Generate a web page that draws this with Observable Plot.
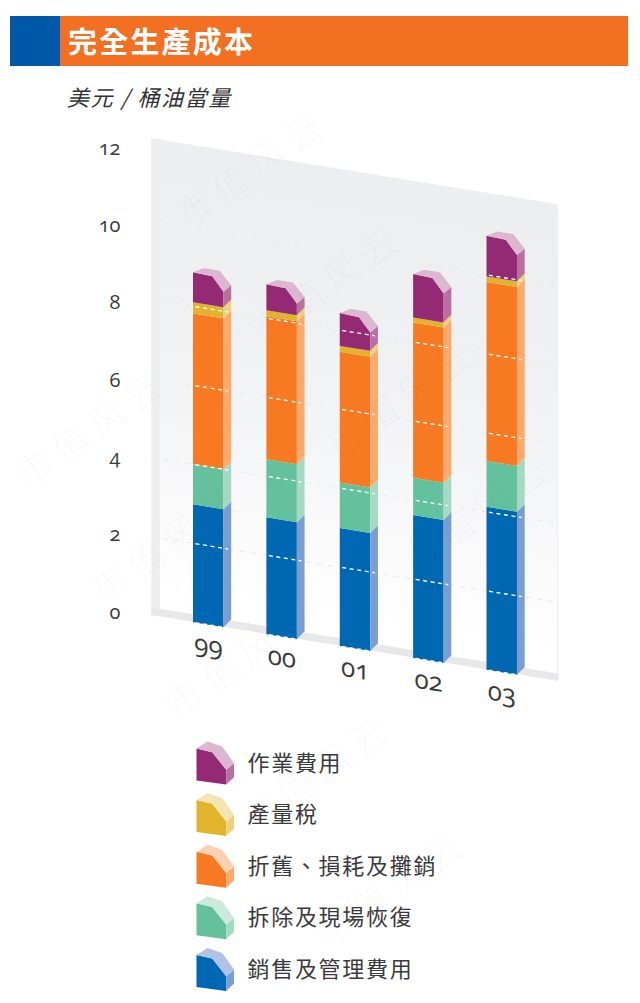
<!DOCTYPE html>
<html>
<head>
<meta charset="utf-8">
<script src="https://cdn.jsdelivr.net/npm/d3@7"></script>
<script src="https://cdn.jsdelivr.net/npm/@observablehq/plot@0.6"></script>
<style>
html,body{margin:0;padding:0;background:#fff;}
body{position:relative;width:640px;height:1003px;overflow:hidden;font-family:"Noto Sans CJK TC",sans-serif;}
#bar{position:absolute;left:10px;top:16px;width:618px;height:50px;background:#f36f21;}
#bar i{position:absolute;left:0;top:0;width:50px;height:50px;background:#0058a8;}
#bar b{position:absolute;left:58px;top:0;line-height:48px;font-size:29px;letter-spacing:2.2px;color:#fff;font-weight:700;}
#unit{position:absolute;left:67px;top:80px;line-height:32px;font-size:22px;letter-spacing:1.6px;font-style:italic;font-weight:400;color:#333335;}
svg{position:absolute;left:0;top:0;}
</style>
</head>
<body>
<div id="bar"><i></i><b>完全生產成本</b></div>
<div id="unit">美元 / 桶油當量</div>
<script>
// ---- data ----
const years = ["99","00","01","02","03"];
const sellingAdmin = [2.99,2.96,2.99,3.62,4.13];
const abandonment  = [1.01,1.47,1.15,0.94,1.16];
const depreciation = [3.82,3.62,3.31,3.93,4.53];
const productionTax= [0.28,0.15,0.15,0.13,0.14];
const operating    = [0.76,0.66,0.83,1.10,1.03];
const yTicks = [0,2,4,6,8,10,12];
const legendLabels = ["作業費用","產量稅","折舊、損耗及攤銷","拆除及現場恢復","銷售及管理費用"];
const legendFront = ["#952a74","#e1b42c","#f77a22","#63c29d","#0067b3"];
const legendSide  = ["#b9709f","#ecd27f","#fba96c","#a6d9c2","#7a9ed1"];
const legendTop   = ["#dcb7d1","#f3e5b3","#fcd1b2","#cde8dc","#b0c2e5"];

// ---- stack, bottom to top, with front/side/top colours ----
const stackOrder = [
  {v:sellingAdmin, f:legendFront[4], s:legendSide[4]},
  {v:abandonment,  f:legendFront[3], s:legendSide[3]},
  {v:depreciation, f:legendFront[2], s:legendSide[2]},
  {v:productionTax,f:legendFront[1], s:legendSide[1]},
  {v:operating,    f:legendFront[0], s:legendSide[0], t:legendTop[0]}
];

// ---- oblique drawing parameters (bar shape in scale units) ----
const W=.4155, DX=.105, DV=.228;
const SHEAR=.162, WALL_X=151;
const shear=`matrix(1 ${SHEAR} 0 1 0 ${-SHEAR*WALL_X})`;
const wrap=(before)=>(i,s,v,d,ctx,next)=>{
  const g=next(i,s,v,d,ctx);
  g.setAttribute("transform",`${before} ${g.getAttribute("transform")||""}`);
  return g;
};
const sheared=wrap(shear);
const labelFit=wrap("translate(0,9.9) scale(1,.979)");

const faces=[];
let faceId=0;
const poly=(pts,fill)=>{const z=faceId++;pts.forEach(([x,y])=>faces.push({x,y,z,fill}));};
years.forEach((_,i)=>{
  let base=0;
  stackOrder.forEach((seg,k)=>{
    const top=base+seg.v[i];
    if(seg.t){
      poly([[i,base],[i,top],[i+.263,top-.023],[i+W,top-.365],[i+W,base]],seg.f);
      poly([[i+W,base],[i+W,top-.365],[i+W+DX,top-.17],[i+W+DX,base+DV]],seg.s);
      poly([[i,top],[i+.146,top+.152],[i+.364,top+.152],[i+W+DX,top-.17],[i+W,top-.365],[i+.263,top-.023]],seg.t);
    }else{
      poly([[i,base],[i,top],[i+W,top],[i+W,base]],seg.f);
      poly([[i+W,base],[i+W,top],[i+W+DX,top+DV],[i+W+DX,base+DV]],seg.s);
    }
    base=top;
  });
});
const totals=years.map((_,i)=>stackOrder.reduce((a,s)=>a+s.v[i],0));
const barGrid=[];
years.forEach((_,i)=>yTicks.forEach(t=>{if(t<totals[i]) barGrid.push({i,t});}));
const wallL=-.5603, wallR=4.985;

const defs=()=>{
  const d=d3.create("svg:defs");
  const g=d.append("linearGradient").attr("id","wallGrad").attr("x1",0).attr("x2",0).attr("y1",0).attr("y2",1);
  [[0,"#edeef0"],[.3,"#eff0f2"],[.55,"#f3f4f6"],[.78,"#fafafb"],[.95,"#ffffff"]].forEach(([o,c])=>g.append("stop").attr("offset",o).attr("stop-color",c));
  return d.node();
};

const chart=Plot.plot({
  width:640,height:720,margin:0,
  style:{background:"transparent",fontFamily:"Open Sans",fontVariantNumeric:"oldstyle-nums"},
  x:{type:"linear",domain:[0,4],range:[192.5,486],axis:null},
  y:{type:"linear",domain:[0,12],range:[615,141],axis:null},
  color:{type:"identity"},
  marks:[
    defs,
    Plot.rect([0],{x1:wallL,x2:wallR,y1:0,y2:12.07,fill:"url(#wallGrad)",render:sheared}),
    Plot.rect([0],{x1:wallL,x2:wallL+.115,y1:0,y2:12.07,fill:"#edeef0",render:sheared}),
    Plot.rect([0],{x1:wallR-.018,x2:wallR,y1:0,y2:12.07,fill:"#eff0f1",render:sheared}),
    Plot.rect([0],{x1:wallL,x2:wallR,y1:0,y2:.19,fill:"#e8e8ea",render:sheared}),
    Plot.ruleY(yTicks.slice(1,6),{x1:wallL+.16,x2:wallR,y:d=>d,stroke:"#e8e9eb",strokeWidth:1,strokeDasharray:"5,6",render:sheared}),
    Plot.line(faces,{x:"x",y:"y",z:"z",fill:"fill",stroke:null,render:sheared}),
    Plot.ruleY(barGrid,{x1:d=>d.i+.04,x2:d=>d.i+W+.07,y:"t",stroke:"#fff",strokeWidth:1.4,strokeDasharray:"4,3.5",render:sheared}),
    Plot.text(years,{x:(d,i)=>i+.21,y:()=>0,text:d=>d,dy:21,fontSize:26,fill:"#3a3a3c",lineAnchor:"middle",render:sheared}),
    Plot.text(yTicks,{frameAnchor:"left",dx:120,y:d=>d,text:d=>String(d),textAnchor:"end",lineAnchor:"middle",fontSize:20,fill:"#3a3a3c",render:labelFit})
  ]
});
document.body.appendChild(chart);

// ---- legend ----
const lgFaces=[];
let lgId=0;
const rowH=51.6;
legendLabels.forEach((_,r)=>{
  const add=(pts,fill)=>{const z=lgId++;pts.forEach(([x,y])=>lgFaces.push({x,y:r+y/rowH,z,fill}));};
  add([[0,0],[15.7,3.7],[29.7,21.3],[29.7,36],[0,32]],legendFront[r]);
  add([[29.7,21.3],[37.5,14.7],[37.5,28.7],[29.7,36]],legendSide[r]);
  add([[0,0],[11,-7],[25.7,-2],[37.5,14.7],[29.7,21.3],[15.7,3.7]],legendTop[r]);
});
const legend=Plot.plot({
  width:640,height:1003,margin:0,
  style:{background:"transparent",fontFamily:"Noto Sans CJK TC"},
  x:{type:"linear",domain:[0,38],range:[196,234],axis:null},
  y:{type:"linear",domain:[0,4],range:[748,748+4*rowH],axis:null},
  color:{type:"identity"},
  marks:[
    Plot.line(lgFaces,{x:"x",y:"y",z:"z",fill:"fill",stroke:null}),
    Plot.text(legendLabels,{x:()=>51,y:(d,i)=>i+.29,text:d=>d,textAnchor:"start",lineAnchor:"middle",fontSize:22,fill:"#3a3a3c"})
  ]
});
legend.querySelectorAll("text").forEach(t=>t.style.letterSpacing="1.7px");
document.body.appendChild(legend);

// ---- faint tiled watermark: only whole repeats that fit inside the page ----
const markText="市值风云";
const rowStarts=[-3,-2,-1,0,1,2,3,4,5,6];
const colStarts=[-2,-1,0,1,2];
const markGrid=d3.cross(colStarts,rowStarts)
  .map(([c,r])=>({x:20+310*c+75*r,y:480-30*c+115*r}))
  .filter(d=>d.x>15&&d.x<470&&d.y>110&&d.y<985);
const watermark=Plot.plot({
  width:640,height:1003,margin:0,
  style:{background:"transparent",pointerEvents:"none",fontFamily:"Noto Sans CJK SC"},
  x:{type:"identity",axis:null},y:{type:"identity",axis:null},
  marks:[Plot.text(markGrid,{x:"x",y:"y",text:()=>markText,textAnchor:"start",rotate:-35,fontSize:37,fontWeight:300,fill:"#000",fillOpacity:.03})]
});
watermark.querySelectorAll("text").forEach(t=>t.style.letterSpacing="7px");
document.body.appendChild(watermark);
</script>
</body>
</html>
